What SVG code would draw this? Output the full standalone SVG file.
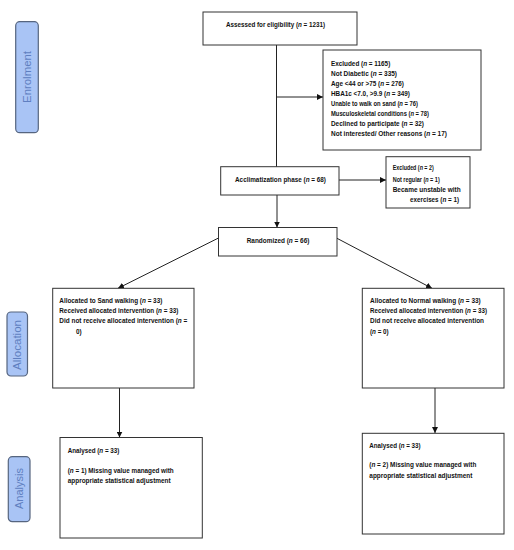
<svg xmlns="http://www.w3.org/2000/svg" width="514" height="550" viewBox="0 0 514 550">
<style>
.box{fill:#fff;stroke:#333;stroke-width:1}
.side{fill:#a9c4f5;stroke:#56657f;stroke-width:1.2}
.st{font-family:"Liberation Sans",Arial,sans-serif;font-size:11px;fill:#5f7fc0;text-anchor:middle;dominant-baseline:central}
.t{font-family:"Liberation Sans",Arial,sans-serif;font-size:7.5px;font-weight:bold;fill:#111}
.i{font-style:italic}
.c{fill:none;stroke:#222;stroke-width:1}
</style>
<defs>
<marker id="ah" viewBox="0 0 10 10" refX="10" refY="5" markerWidth="6" markerHeight="6" markerUnits="userSpaceOnUse" orient="auto">
<path d="M0,0 L10,5 L0,10 z" fill="#111"/>
</marker>
</defs>
<rect width="514" height="550" fill="#fff"/>
<g id="side-enrolment"><rect class="side" x="15.7" y="21.7" width="22.6" height="111" rx="4"/><text class="st" transform="translate(27,77) rotate(-90)" textLength="52" lengthAdjust="spacingAndGlyphs">Enrolment</text></g>
<g id="side-allocation"><rect class="side" x="7" y="312" width="20.5" height="64" rx="4"/><text class="st" transform="translate(17.3,345) rotate(-90)" textLength="50" lengthAdjust="spacingAndGlyphs">Allocation</text></g>
<g id="side-analysis"><rect class="side" x="8.3" y="456.7" width="21.7" height="65" rx="4"/><text class="st" transform="translate(19.2,488.5) rotate(-90)" textLength="41" lengthAdjust="spacingAndGlyphs">Analysis</text></g>
<g id="connectors">
<path class="c" d="M276.5,45 V167"/>
<path class="c" d="M276.5,97 H323" marker-end="url(#ah)"/>
<path class="c" d="M339,180 H386" marker-end="url(#ah)"/>
<path class="c" d="M277,195 V227.5" marker-end="url(#ah)"/>
<path class="c" d="M218.5,238 L118,288.3" marker-end="url(#ah)"/>
<path class="c" d="M337,238.3 L432,288.3" marker-end="url(#ah)"/>
<path class="c" d="M119.5,388 V437.5" marker-end="url(#ah)"/>
<path class="c" d="M435,388 V433" marker-end="url(#ah)"/>
</g>
<g id="assessed"><rect class="box" x="203" y="12" width="154" height="33"/><text class="t" x="226" y="26.6" textLength="99" lengthAdjust="spacingAndGlyphs">Assessed for eligibility (<tspan class="i">n</tspan> = 1231)</text></g>
<g id="excluded1"><rect class="box" x="323" y="50" width="158" height="100"/>
<text class="t" x="331" y="66" textLength="59.3" lengthAdjust="spacingAndGlyphs">Excluded (<tspan class="i">n</tspan> = 1165)</text>
<text class="t" x="331" y="76" textLength="66" lengthAdjust="spacingAndGlyphs">Not Diabetic (<tspan class="i">n</tspan> = 335)</text>
<text class="t" x="331" y="86" textLength="73" lengthAdjust="spacingAndGlyphs">Age &lt;44 or &gt;75 (<tspan class="i">n</tspan> = 276)</text>
<text class="t" x="331" y="96" textLength="79" lengthAdjust="spacingAndGlyphs">HBA1c &lt;7.0, &gt;9.9 (<tspan class="i">n</tspan> = 349)</text>
<text class="t" x="331" y="105.5" textLength="87" lengthAdjust="spacingAndGlyphs">Unable to walk on sand (<tspan class="i">n</tspan> = 76)</text>
<text class="t" x="331" y="115.5" textLength="98" lengthAdjust="spacingAndGlyphs">Musculoskeletal conditions (<tspan class="i">n</tspan> = 78)</text>
<text class="t" x="331" y="126" textLength="93" lengthAdjust="spacingAndGlyphs">Declined to participate (<tspan class="i">n</tspan> = 32)</text>
<text class="t" x="331" y="136" textLength="116" lengthAdjust="spacingAndGlyphs">Not interested/ Other reasons (<tspan class="i">n</tspan> = 17)</text>
</g>
<g id="acclimatization"><rect class="box" x="220.7" y="166.7" width="118.3" height="28.3"/><text class="t" x="235" y="182" textLength="91" lengthAdjust="spacingAndGlyphs">Acclimatization phase (<tspan class="i">n</tspan> = 68)</text></g>
<g id="excluded2"><rect class="box" x="386" y="156.7" width="84" height="51.3"/>
<text class="t" x="392.7" y="169.5" textLength="41" lengthAdjust="spacingAndGlyphs">Excluded (<tspan class="i">n</tspan> = 2)</text>
<text class="t" x="392.7" y="181.5" textLength="47" lengthAdjust="spacingAndGlyphs">Not regular (<tspan class="i">n</tspan> = 1)</text>
<text class="t" x="392.7" y="191.5" textLength="68" lengthAdjust="spacingAndGlyphs">Became unstable with</text>
<text class="t" x="410" y="201.5" textLength="49" lengthAdjust="spacingAndGlyphs">exercises (<tspan class="i">n</tspan> = 1)</text>
</g>
<g id="randomized"><rect class="box" x="218.5" y="227.5" width="118.5" height="28.5"/><text class="t" x="246.7" y="242.7" textLength="62.7" lengthAdjust="spacingAndGlyphs">Randomized (<tspan class="i">n</tspan> = 66)</text></g>
<g id="alloc-sand"><rect class="box" x="52.7" y="288.3" width="141.3" height="99.7"/>
<text class="t" x="59.3" y="302.7" textLength="103" lengthAdjust="spacingAndGlyphs">Allocated to Sand walking (<tspan class="i">n</tspan> = 33)</text>
<text class="t" x="59.3" y="313" textLength="119" lengthAdjust="spacingAndGlyphs">Received allocated intervention (<tspan class="i">n</tspan> = 33)</text>
<text class="t" x="59.3" y="323.4" textLength="128" lengthAdjust="spacingAndGlyphs">Did not receive allocated intervention (<tspan class="i">n</tspan> =</text>
<text class="t" x="76" y="334.4" textLength="5.7" lengthAdjust="spacingAndGlyphs">0)</text>
</g>
<g id="alloc-normal"><rect class="box" x="362.3" y="288.3" width="141.7" height="99.7"/>
<text class="t" x="370" y="302.7" textLength="110.7" lengthAdjust="spacingAndGlyphs">Allocated to Normal walking (<tspan class="i">n</tspan> = 33)</text>
<text class="t" x="370" y="313" textLength="117" lengthAdjust="spacingAndGlyphs">Received allocated intervention (<tspan class="i">n</tspan> = 33)</text>
<text class="t" x="370" y="323.4" textLength="114" lengthAdjust="spacingAndGlyphs">Did not receive allocated intervention</text>
<text class="t" x="370" y="334.4" textLength="18.7" lengthAdjust="spacingAndGlyphs">(<tspan class="i">n</tspan> = 0)</text>
</g>
<g id="analysis-sand"><rect class="box" x="60" y="437.5" width="142.3" height="100.5"/>
<text class="t" x="67.7" y="453.4" textLength="51.7" lengthAdjust="spacingAndGlyphs">Analysed (<tspan class="i">n</tspan> = 33)</text>
<text class="t" x="67.7" y="472.7" textLength="106" lengthAdjust="spacingAndGlyphs">(<tspan class="i">n</tspan> = 1) Missing value managed with</text>
<text class="t" x="67.7" y="483" textLength="103" lengthAdjust="spacingAndGlyphs">appropriate statistical adjustment</text>
</g>
<g id="analysis-normal"><rect class="box" x="362.3" y="433.3" width="141.7" height="100.7"/>
<text class="t" x="369.3" y="447.7" textLength="51.3" lengthAdjust="spacingAndGlyphs">Analysed (<tspan class="i">n</tspan> = 33)</text>
<text class="t" x="369.3" y="467" textLength="107" lengthAdjust="spacingAndGlyphs">(<tspan class="i">n</tspan> = 2) Missing value managed with</text>
<text class="t" x="369.3" y="477.5" textLength="103" lengthAdjust="spacingAndGlyphs">appropriate statistical adjustment</text>
</g>
</svg>
